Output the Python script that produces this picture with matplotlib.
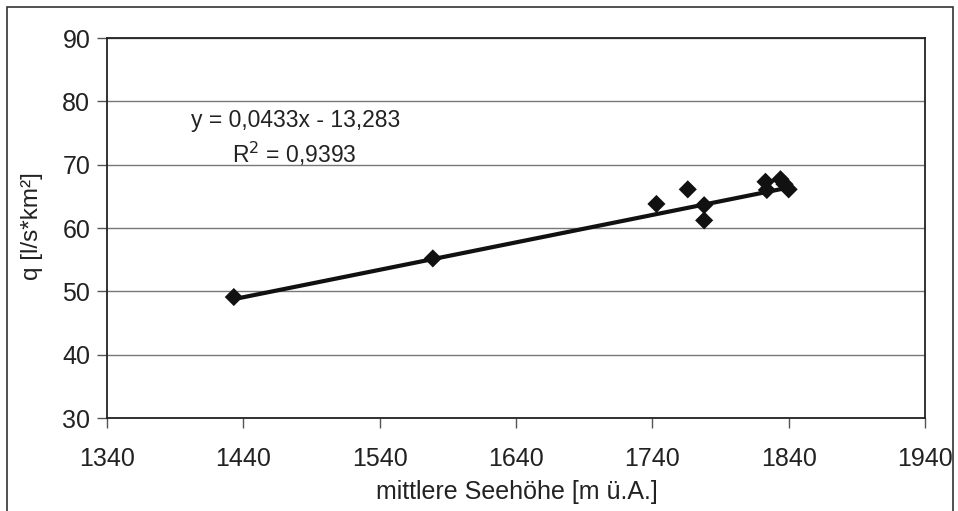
import numpy as np
import matplotlib.pyplot as plt
from matplotlib.patches import Rectangle

plt.rcParams['font.family'] = ['Liberation Sans', 'DejaVu Sans']

# mean catchment elevation [m a.s.l.] and specific discharge [l/s*km²]
elevation = [1433, 1579, 1743, 1766, 1778, 1778, 1823, 1824, 1834, 1837, 1840]
discharge = [49.1, 55.2, 63.8, 66.1, 63.6, 61.2, 67.3, 66.0, 67.7, 66.9, 66.1]

slope = 0.0433
intercept = -13.283
r_squared = 0.9393

x_ticks = [1340, 1440, 1540, 1640, 1740, 1840, 1940]
y_ticks = [30, 40, 50, 60, 70, 80, 90]

W, H = 958, 511
fig = plt.figure(figsize=(W / 100, H / 100), dpi=100)
ax = fig.add_axes([107 / W, 1 - 418 / H, (925 - 107) / W, (418 - 38) / H])

ax.set_xlim(1340, 1940)
ax.set_ylim(30, 90)
ax.set_xticks(x_ticks)
ax.set_yticks(y_ticks)
ax.yaxis.grid(True, color='#777777', linewidth=1.0)
ax.set_axisbelow(True)

for s in ax.spines.values():
    s.set_color('#222222')
    s.set_linewidth(1.3)

ax.tick_params(axis='both', labelsize=18, color='#555555', length=7, width=1,
               labelcolor='#222222')
ax.tick_params(axis='x', pad=14)
ax.tick_params(axis='y', pad=5)

# linear trend over the data range
xs = np.array([min(elevation), max(elevation)])
ax.plot(xs, slope * xs + intercept, color='#111111', linewidth=3, zorder=3)

ax.scatter(elevation, discharge, marker='D', s=85, color='#111111', zorder=4,
           edgecolors='none')

ax.text(0.231, 0.782, 'y = 0,0433x - 13,283', transform=ax.transAxes,
        fontsize=16.5, ha='center', va='center', color='#222222')
ax.text(0.229, 0.695, 'R$^2$ = 0,9393', transform=ax.transAxes,
        fontsize=16.5, ha='center', va='center', color='#222222')

ax.set_xlabel('mittlere Seehöhe [m ü.A.]', fontsize=18, color='#222222')
ax.set_ylabel('q [l/s*km²]', fontsize=17.5, color='#222222')
ax.xaxis.set_label_coords((517 - 107) / 818, -(480 - 418) / 380)
ax.yaxis.set_label_coords(-(107 - 43) / 818, (418 - 226) / 380)

# outer frame around the chart
fig.patches.append(Rectangle((7 / W, -0.01), (953 - 7) / W, 1 - 7 / H + 0.01,
                             transform=fig.transFigure, fill=False,
                             edgecolor='#333333', linewidth=1.2))

fig.savefig('out.png', dpi=100)
